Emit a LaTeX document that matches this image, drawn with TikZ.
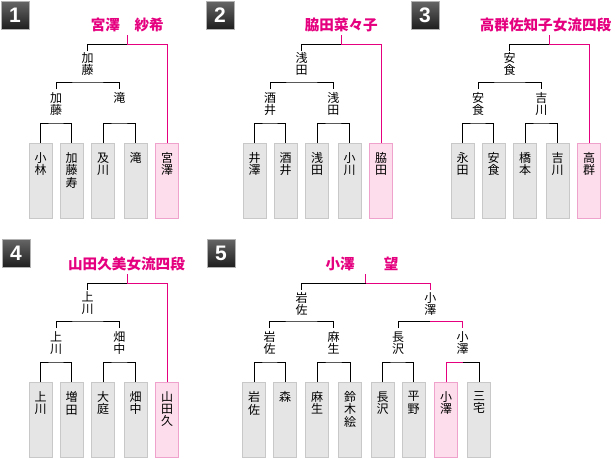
\documentclass[tikz,border=0pt]{standalone}
\usepackage{fontspec}
\newfontfamily\cjk{Noto Sans CJK JP}
\newfontfamily\badgefont{Liberation Sans}
\definecolor{pinkc}{HTML}{E5007F}
\definecolor{boxf}{HTML}{E5E5E5}
\definecolor{boxb}{HTML}{C8C8C8}
\definecolor{wboxf}{HTML}{FDDDEB}
\definecolor{wboxb}{HTML}{EFA2CC}
\newcommand{\nmfont}{\cjk\fontsize{12}{12.2}\selectfont}
\newcommand{\ttlfont}{\cjk\bfseries\fontsize{14.6}{15}\selectfont}
\newcommand{\ttlx}{127.3}
\tikzset{
  pl/.style={draw=black, line width=1pt},
  pk/.style={draw=pinkc, line width=1pt},
  pbox/.style={draw=boxb, fill=boxf, line width=1pt, minimum width=23pt, minimum height=75pt, inner sep=0pt, anchor=north},
  wbox/.style={pbox, draw=wboxb, fill=wboxf},
  nm/.style={font=\nmfont, align=center, inner sep=0pt, anchor=north},
  ttl/.style={font=\ttlfont, text=pinkc, inner sep=0pt},
  badgest/.style={anchor=north west, minimum size=28pt, inner sep=0pt, draw=gray!60, line width=1pt,
    top color=black!60, bottom color=black!88, text=white, font=\badgefont\bfseries\fontsize{21}{21}\selectfont},
}
\newcommand{\fourbr}[9]{%
  \node[pbox] (b1) at (40.5,143) {};
  \node[pbox] (b2) at (71.5,143) {};
  \node[pbox] (b3) at (103,143) {};
  \node[pbox] (b4) at (135.5,143) {};
  \node[wbox] (b5) at (167,143) {};
  \node[nm] (n1) at (40.5,152.5) {#1};
  \node[nm] (n2) at (71.5,152.5) {#2};
  \node[nm] (n3) at (103,152.5) {#3};
  \node[nm] (n4) at (135.5,152.5) {#4};
  \node[nm] (n5) at (167,152.5) {#5};
  \coordinate (h1) at (56,123);
  \coordinate (h2) at (119.25,123);
  \draw[pl] (b1.north) |- (h1) -| (b2.north);
  \draw[pl] (b3.north) |- (h2) -| (b4.north);
  \node[nm] (w1) at (56,92.5) {#6};
  \node[nm] (w2) at (119.25,92.5) {#7};
  \coordinate (s1) at (56,89);
  \coordinate (s2) at (119.25,89);
  \coordinate (m1) at (87.6,82);
  \draw[pl] (s1) |- (m1) -| (s2);
  \node[nm] (w3) at (87.6,52.5) {#8};
  \coordinate (f) at (87.6,51);
  \coordinate (j) at (127.3,44);
  \draw[pl] (f) |- (j);
  \draw[pk] (j) -| (b5.north);
  \node[ttl] (T) at (\ttlx,25) {#9};
  \coordinate (tb) at (127.3,35);
  \draw[pk] (tb) -- (j);
}
\begin{document}
\begin{tikzpicture}[x=1pt,y=-1pt]
\useasboundingbox (0,0) rectangle (615,458);
% badges
\node[badgest] (bd1) at (0.5,0.5) {1};
\node[badgest] (bd2) at (205.5,0.5) {2};
\node[badgest] (bd3) at (410.5,0.5) {3};
\node[badgest] (bd4) at (1.5,238.5) {4};
\node[badgest] (bd5) at (206.5,238.5) {5};
% panels 1-4
\begin{scope}[name prefix=p1-]
\fourbr{小\\林}{加\\藤\\寿}{及\\川}{滝}{宮\\澤}{加\\藤}{滝}{加\\藤}{宮澤　紗希}
\end{scope}
\begin{scope}[shift={(214,0)}, name prefix=p2-]
\fourbr{井\\澤}{酒\\井}{浅\\田}{小\\川}{脇\\田}{酒\\井}{浅\\田}{浅\\田}{脇田菜々子}
\end{scope}
\begin{scope}[shift={(422,0)}, name prefix=p3-]
\renewcommand{\ttlx}{123.5}
\fourbr{永\\田}{安\\食}{橋\\本}{吉\\川}{高\\群}{安\\食}{吉\\川}{安\\食}{高群佐知子女流四段}
\end{scope}
\begin{scope}[shift={(0,239)}, name prefix=p4-]
\renewcommand{\ttlx}{126.5}
\fourbr{上\\川}{増\\田}{大\\庭}{畑\\中}{山\\田\\久}{上\\川}{畑\\中}{上\\川}{山田久美女流四段}
\end{scope}
% panel 5
\begin{scope}[name prefix=p5-]
\node[pbox] (b1) at (254,382) {};
\node[pbox] (b2) at (285,382) {};
\node[pbox] (b3) at (317,382) {};
\node[pbox] (b4) at (350,382) {};
\node[pbox] (b5) at (382.5,382) {};
\node[pbox] (b6) at (413.5,382) {};
\node[wbox] (b7) at (446,382) {};
\node[pbox] (b8) at (479,382) {};
\node[nm] (n1) at (254,391.5) {岩\\佐};
\node[nm] (n2) at (285,391.5) {森};
\node[nm] (n3) at (317,391.5) {麻\\生};
\node[nm] (n4) at (350,391.5) {鈴\\木\\絵};
\node[nm] (n5) at (382.5,391.5) {長\\沢};
\node[nm] (n6) at (413.5,391.5) {平\\野};
\node[nm] (n7) at (446,391.5) {小\\澤};
\node[nm] (n8) at (479,391.5) {三\\宅};
\coordinate (h1) at (269.5,362);
\coordinate (h2) at (333.5,362);
\coordinate (h3) at (398,362);
\coordinate (h4) at (462.5,362);
\draw[pl] (b1.north) |- (h1) -| (b2.north);
\draw[pl] (b3.north) |- (h2) -| (b4.north);
\draw[pl] (b5.north) |- (h3) -| (b6.north);
\draw[pk] (b7.north) |- (h4);
\draw[pl] (h4) -| (b8.north);
\node[nm] (w1) at (269.5,331.5) {岩\\佐};
\node[nm] (w2) at (333.5,331.5) {麻\\生};
\node[nm] (w3) at (398,331.5) {長\\沢};
\node[nm] (w4) at (462.5,331.5) {小\\澤};
\coordinate (s1) at (269.5,328);
\coordinate (s2) at (333.5,328);
\coordinate (s3) at (398,328);
\coordinate (s4) at (462.5,328);
\coordinate (m1) at (301.5,321);
\coordinate (m2) at (430.25,321);
\draw[pl] (s1) |- (m1) -| (s2);
\draw[pl] (s3) |- (m2);
\draw[pk] (m2) -| (s4);
\node[nm] (v1) at (301.5,292.5) {岩\\佐};
\node[nm] (v2) at (430.25,292.5) {小\\澤};
\coordinate (t1) at (301.5,290);
\coordinate (t2) at (430.25,290);
\coordinate (j) at (365.9,283);
\draw[pl] (t1) |- (j);
\draw[pk] (j) -| (t2);
\node[ttl] (T) at (362,264) {小澤　　望};
\coordinate (tb) at (365.9,274);
\draw[pk] (tb) -- (j);
\end{scope}
\end{tikzpicture}
\end{document}
